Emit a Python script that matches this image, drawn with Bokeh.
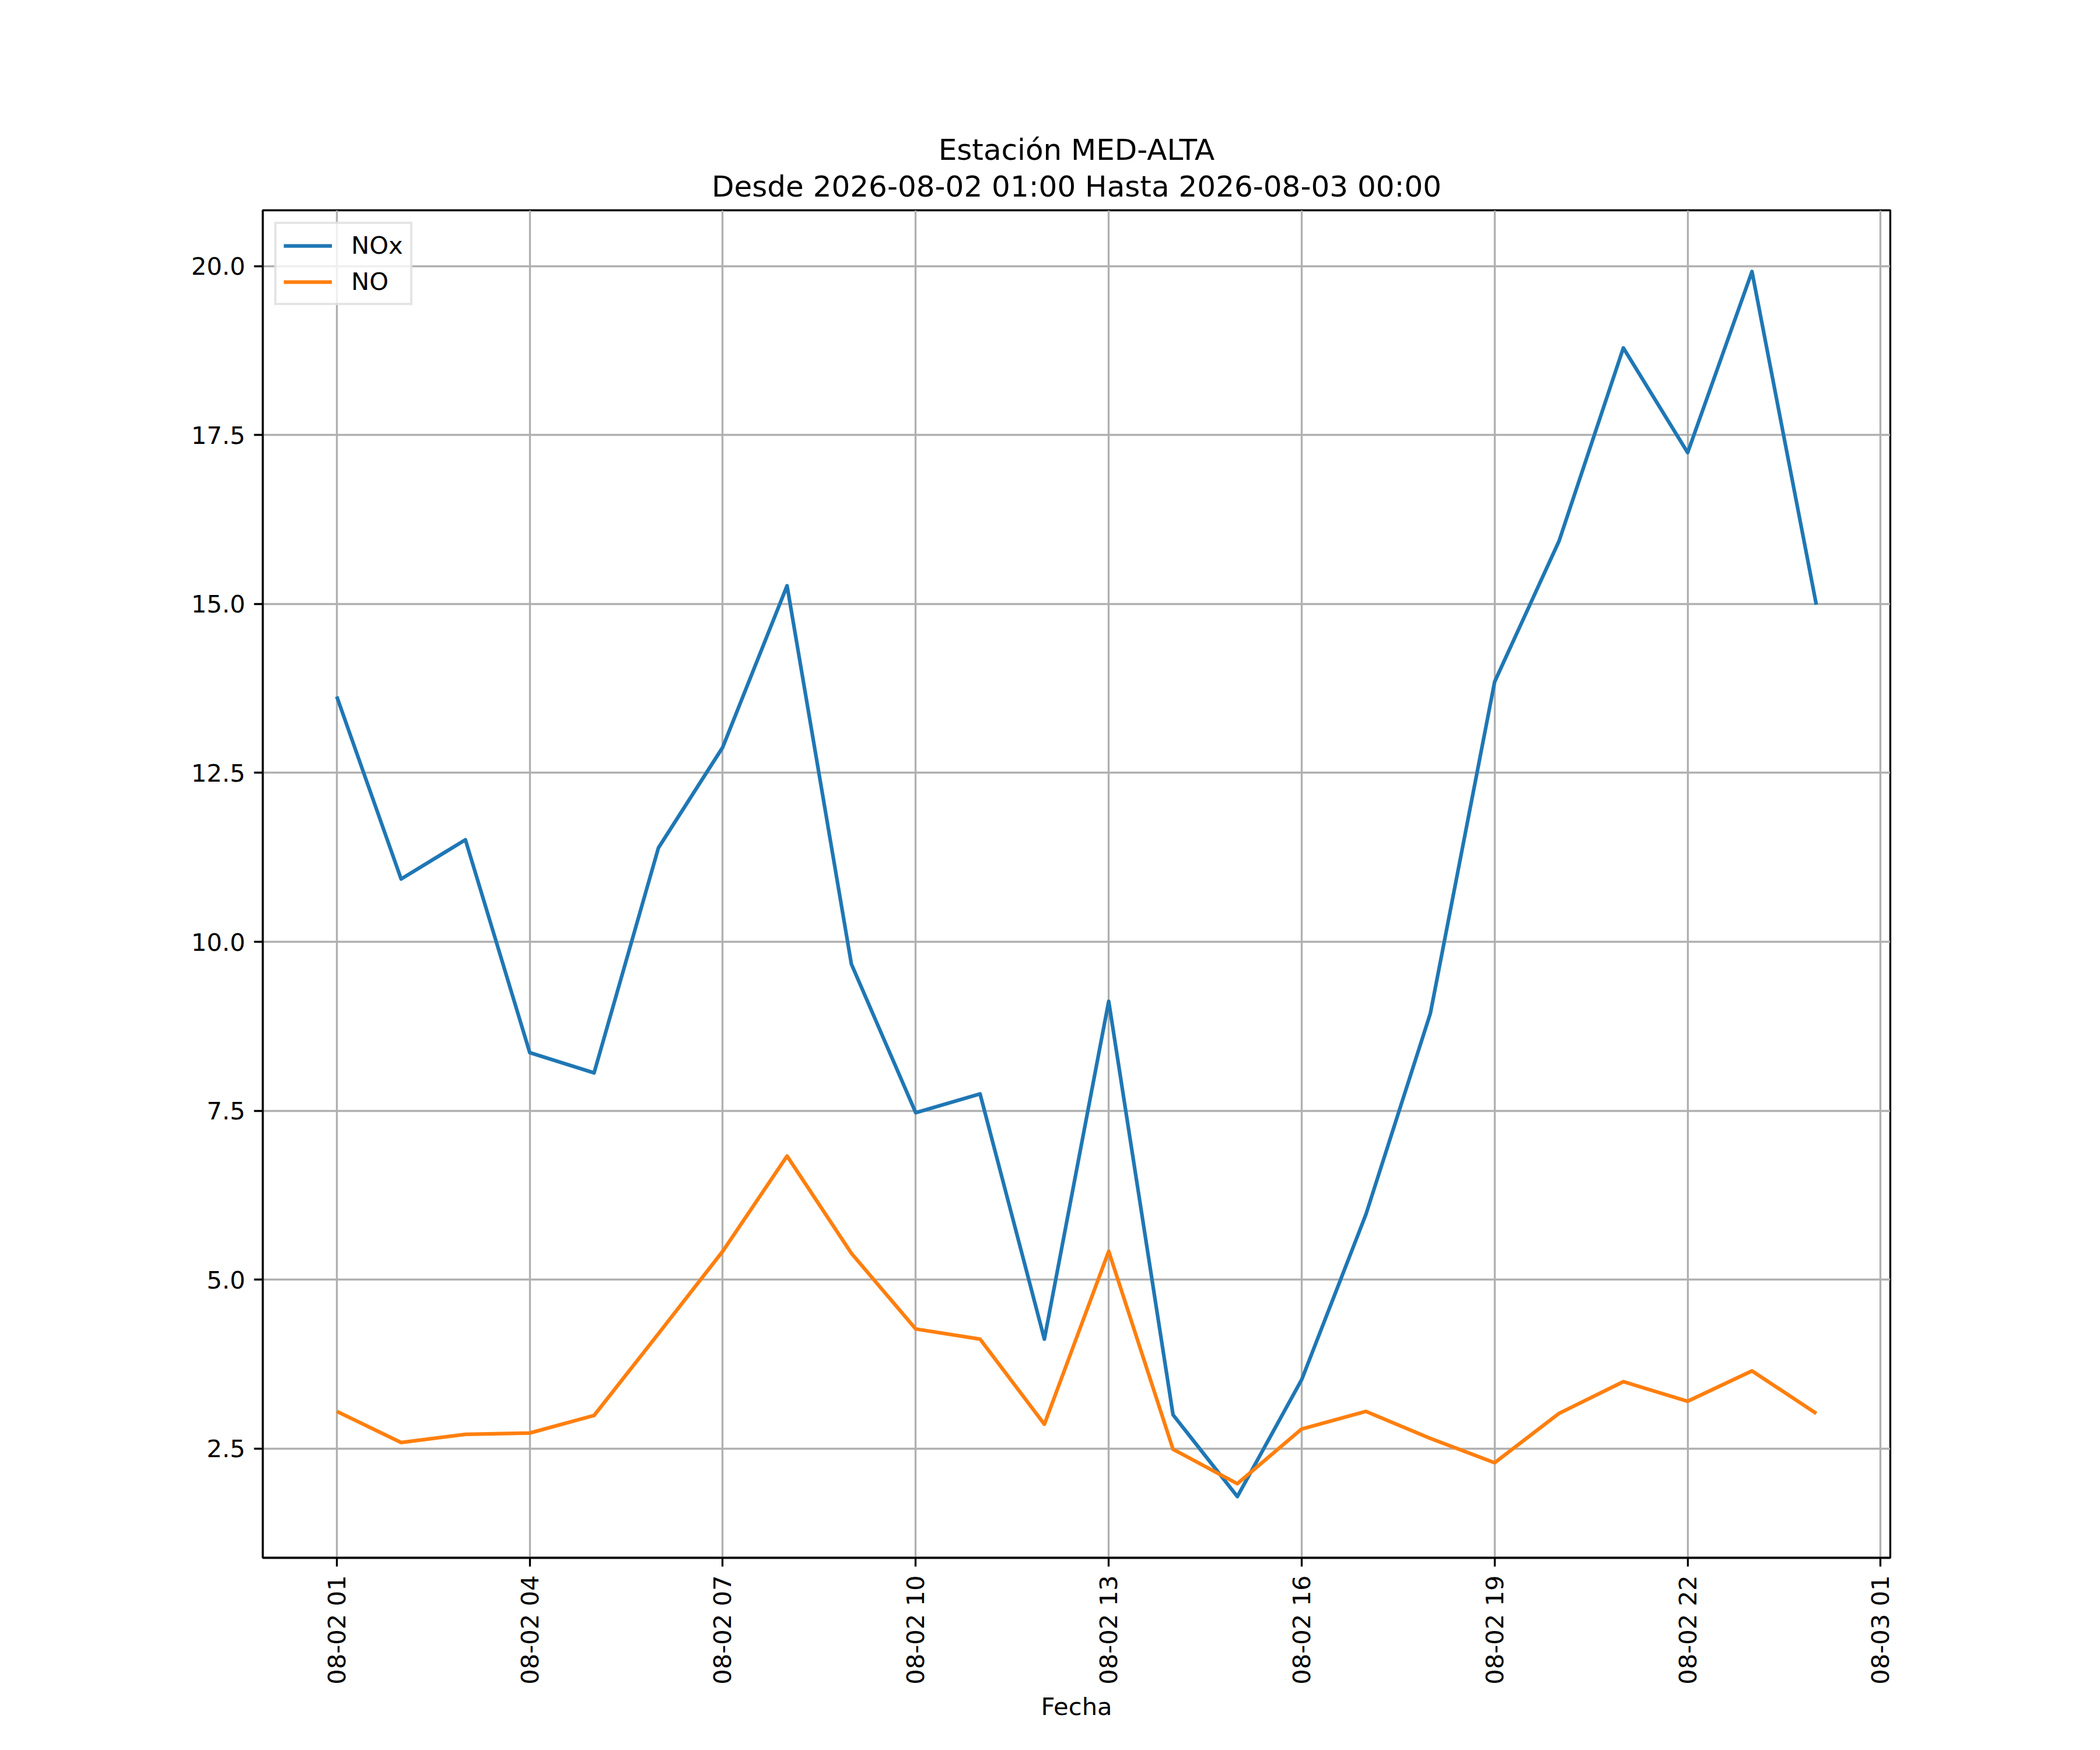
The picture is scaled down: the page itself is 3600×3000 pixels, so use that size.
import math
import pandas as pd
from bokeh.plotting import figure
from bokeh.models import (Range1d, FixedTicker, DatetimeTickFormatter, PrintfTickFormatter,
                          Title, Legend, LegendItem, ColumnDataSource)
from bokeh.embed import file_html
from bokeh.resources import INLINE

# ---- data ----
times = ["2026-08-02 01:00", "2026-08-02 02:00", "2026-08-02 03:00", "2026-08-02 04:00",
         "2026-08-02 05:00", "2026-08-02 06:00", "2026-08-02 07:00", "2026-08-02 08:00",
         "2026-08-02 09:00", "2026-08-02 10:00", "2026-08-02 11:00", "2026-08-02 12:00",
         "2026-08-02 13:00", "2026-08-02 14:00", "2026-08-02 15:00", "2026-08-02 16:00",
         "2026-08-02 17:00", "2026-08-02 18:00", "2026-08-02 19:00", "2026-08-02 20:00",
         "2026-08-02 21:00", "2026-08-02 22:00", "2026-08-02 23:00", "2026-08-03 00:00"]
nox = [13.63, 10.93, 11.51, 8.36, 8.06, 11.39, 12.88, 15.27, 9.67, 7.47, 7.75, 4.12,
       9.12, 3.00, 1.79, 3.52, 5.97, 8.94, 13.85, 15.93, 18.79, 17.24, 19.92, 14.99]
no = [3.05, 2.59, 2.71, 2.73, 2.99, 4.20, 5.42, 6.83, 5.39, 4.27, 4.12, 2.86,
      5.42, 2.49, 1.98, 2.79, 3.05, 2.65, 2.29, 3.02, 3.49, 3.20, 3.65, 3.02]
tick_times = ["2026-08-02 01:00", "2026-08-02 04:00", "2026-08-02 07:00", "2026-08-02 10:00",
              "2026-08-02 13:00", "2026-08-02 16:00", "2026-08-02 19:00", "2026-08-02 22:00",
              "2026-08-03 01:00"]
tick_labels = ["08-02 01", "08-02 04", "08-02 07", "08-02 10", "08-02 13",
               "08-02 16", "08-02 19", "08-02 22", "08-03 01"]
y_ticks = [2.5, 5.0, 7.5, 10.0, 12.5, 15.0, 17.5, 20.0]
series_names = ["NOx", "NO"]
title_line1 = "Estación MED-ALTA"
title_line2 = "Desde 2026-08-02 01:00 Hasta 2026-08-03 00:00"
x_label = "Fecha"

# ---- derived ----
def to_ms(s):
    return float(pd.Timestamp(s).value // 10**6)

x_ms = [to_ms(t) for t in times]
tick_ms = [to_ms(t) for t in tick_times]
xspan = x_ms[-1] - x_ms[0]
ymin = min(min(nox), min(no))
ymax = max(max(nox), max(no))
yspan = ymax - ymin

FONT = "DejaVu Sans"
FS = "41.67px"
LW_AX = 3.33

src = ColumnDataSource(dict(x=pd.to_datetime(times), nox=nox, no=no))

p = figure(x_axis_type="datetime",
           frame_width=2790, frame_height=2310,
           min_border_left=450, min_border_right=344,
           min_border_top=360, min_border_bottom=314,
           x_range=Range1d(x_ms[0] - 0.05 * xspan, x_ms[-1] + 0.05 * xspan),
           y_range=Range1d(ymin - 0.05 * yspan, ymax + 0.05 * yspan),
           output_backend="svg", toolbar_location=None,
           title=title_line1)

p.background_fill_color = "white"
p.border_fill_color = "white"
p.outline_line_color = "black"
p.outline_line_width = LW_AX

# titles (figure title is outermost; added title sits next to the frame)
p.title.align = "center"
p.title.text_font = FONT
p.title.text_font_size = "50px"
p.title.text_font_style = "normal"
p.title.text_color = "black"
try:
    p.title.standoff = -16
except Exception:
    p.title.standoff = 0
p.add_layout(Title(text=title_line2, align="center", text_font=FONT,
                   text_font_size="50px", text_font_style="normal",
                   text_color="black", standoff=23), "above")

r1 = p.line("x", "nox", source=src, line_color="#1f77b4", line_width=6.25,
            line_join="round")
r2 = p.line("x", "no", source=src, line_color="#ff7f0e", line_width=6.25,
            line_join="round")

# axes
for ax in (p.xaxis[0], p.yaxis[0]):
    ax.axis_line_width = LW_AX
    ax.axis_line_color = "black"
    ax.major_tick_line_width = LW_AX
    ax.major_tick_line_color = "black"
    ax.major_tick_out = 15
    ax.major_tick_in = 0
    ax.minor_tick_line_color = None
    ax.major_label_text_font = FONT
    ax.major_label_text_font_size = FS
    ax.major_label_text_color = "black"
    ax.major_label_standoff = 15

p.xaxis.ticker = FixedTicker(ticks=tick_ms)
p.xaxis.formatter = DatetimeTickFormatter(hours="%m-%d %H", days="%m-%d %H",
                                          hourmin="%m-%d %H", minutes="%m-%d %H",
                                          months="%m-%d %H")
p.xaxis.major_label_overrides = {k: v for k, v in zip(tick_ms, tick_labels)}
p.xaxis.major_label_orientation = math.pi / 2
p.xaxis.axis_label = x_label
p.xaxis.axis_label_text_font = FONT
p.xaxis.axis_label_text_font_size = FS
p.xaxis.axis_label_text_font_style = "normal"
p.xaxis.axis_label_text_color = "black"
p.xaxis.axis_label_standoff = 10

p.yaxis.ticker = FixedTicker(ticks=y_ticks)
p.yaxis.formatter = PrintfTickFormatter(format="%.1f")

# grid
for g in (p.xgrid[0], p.ygrid[0]):
    g.grid_line_color = "#b0b0b0"
    g.grid_line_width = LW_AX
p.xgrid.ticker = p.xaxis.ticker
p.ygrid.ticker = p.yaxis.ticker

# legend
legend = Legend(items=[LegendItem(label=series_names[0], renderers=[r1]),
                       LegendItem(label=series_names[1], renderers=[r2])],
                location="top_left")
legend.margin = 20
legend.padding = 12
legend.spacing = 13
legend.glyph_width = 83
legend.glyph_height = 42
legend.label_height = 42
legend.label_standoff = 33
legend.label_text_font = FONT
legend.label_text_font_size = FS
legend.label_text_color = "black"
legend.border_line_color = "#cccccc"
legend.border_line_width = 4
legend.background_fill_color = "white"
legend.background_fill_alpha = 0.8
p.add_layout(legend)

open("out.html", "w").write(file_html(p, INLINE))
